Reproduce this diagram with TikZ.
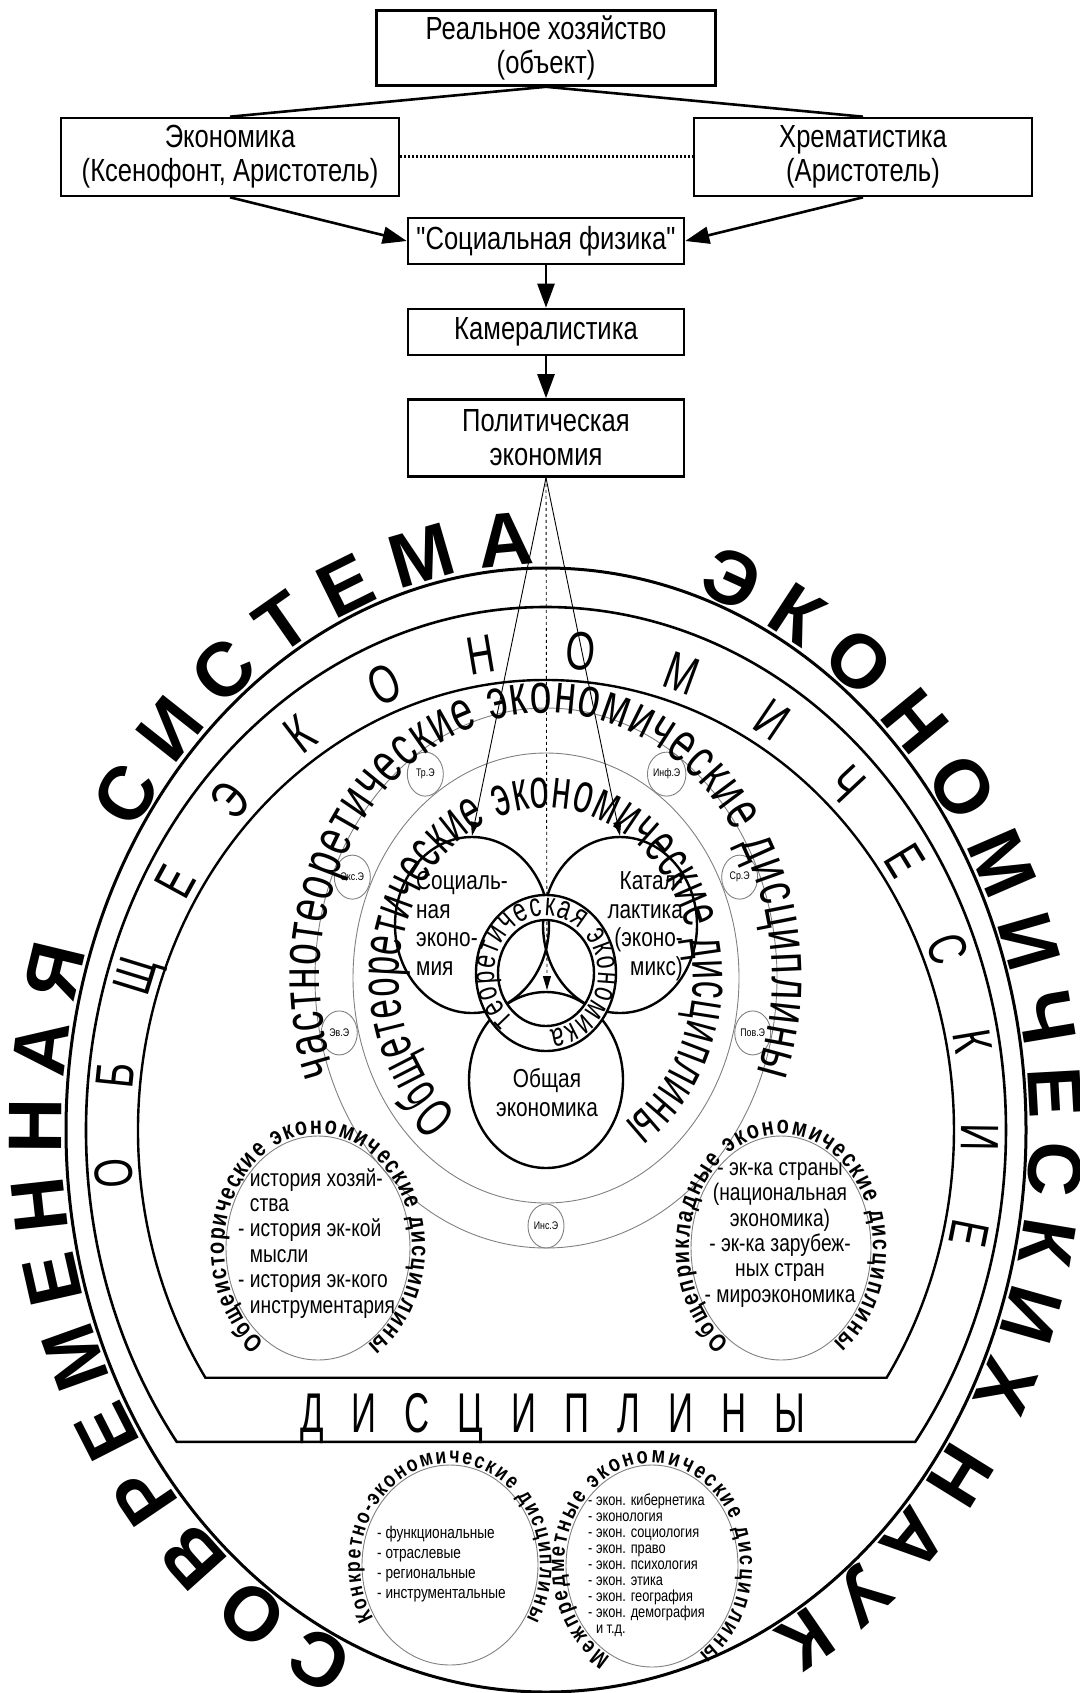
\documentclass[tikz,border=0pt]{standalone}
\usepackage{fontspec}
\setmainfont{Liberation Sans}
\newfontfamily\narrowfont[FakeStretch=0.8]{Liberation Sans}
\newfontfamily\ringfont[FakeStretch=0.7]{Liberation Sans}
\newfontfamily\tallfont[FakeStretch=0.62]{Liberation Sans}
\usetikzlibrary{arrows.meta,decorations.text,shapes.geometric}

\newcommand{\fsz}[1]{\fontsize{#1}{#1}\selectfont}

\begin{document}
\begin{tikzpicture}[x=1pt,y=1pt,
  chainbox/.style={draw, line width=2.6pt, inner sep=0pt, align=center,
    font=\narrowfont\fontsize{32}{34}\selectfont},
  flow/.style={line width=2.6pt, -{Triangle[length=24pt,width=17pt]}},
  feed/.style={line width=0.9pt, -{Triangle[length=14pt,width=8pt]}},
  venn/.style={draw, ellipse, line width=2.4pt, inner sep=0pt,
    minimum width=154pt, minimum height=176pt},
  field/.style={draw=gray, line width=0.9pt},
  sat/.style={field, ellipse, inner sep=0pt, minimum width=36pt, minimum height=44pt,
    font=\narrowfont\fsz{11}},
  venntext/.style={inner sep=0pt, font=\narrowfont\fontsize{26}{28.5}\selectfont},
  listtext/.style={align=left, inner sep=0pt}
]
\useasboundingbox (0,0) rectangle (1079,-1693);

\node[chainbox, minimum width=339pt, minimum height=75pt] (real) at (546,-48) {Реальное хозяйство\\(объект)};
\node[chainbox, minimum width=338pt, minimum height=78pt] (econ) at (230,-157) {Экономика\\(Ксенофонт, Аристотель)};
\node[chainbox, minimum width=338pt, minimum height=78pt] (chrem) at (863,-157) {Хрематистика\\(Аристотель)};
\node[chainbox, minimum width=276pt, minimum height=46pt] (socphys) at (546,-241) {"Социальная физика"};
\node[chainbox, minimum width=276pt, minimum height=46pt] (cameral) at (546,-332) {Камералистика};
\node[chainbox, minimum width=276pt, minimum height=77pt] (polit) at (546,-438) {Политическая\\экономия};

\draw[line width=2.6pt] (real.south) -- (econ.north);
\draw[line width=2.6pt] (real.south) -- (chrem.north);
\draw[line width=3pt, dash pattern=on 2pt off 2pt] (econ.east) -- (chrem.west);
\draw[flow] (econ.south) -- (socphys.west);
\draw[flow] (chrem.south) -- (socphys.east);
\draw[flow] (socphys) -- (cameral);
\draw[flow] (cameral) -- (polit);

\draw[line width=3pt] (546,-1130) ellipse [x radius=480, y radius=562];
\draw[line width=2.6pt] ([shift={(546,-1130)}]216.6:460 and 523)
  arc[start angle=216.6, end angle=-36.6, x radius=460, y radius=523] -- cycle;
\draw[line width=2.4pt] ([shift={(546,-1130)}]213.4:408 and 450)
  arc[start angle=213.4, end angle=-33.4, x radius=408, y radius=450] -- cycle;

\draw[field] (546,-978) ellipse [x radius=231, y radius=270];
\draw[field] (546,-978) ellipse [x radius=193, y radius=225];
\foreach \a/\n/\t in {124.7/tr/Тр.Э, 55.3/inf/Инф.Э, 156/eks/Экс.Э, 24/sr/Ср.Э,
    192.8/ev/Эв.Э, -12.8/pov/Пов.Э, -90/ins/Инс.Э}
  \node[sat] (\n) at ([shift={(546,-978)}]\a:212 and 248) {\t};

\path[decorate, decoration={text along path, text align={fit to path}, raise=4pt,
  text={|\bfseries\fsz{76}|СОВРЕМЕННАЯ{\kern45pt} СИСТЕМА{\kern80pt} ЭКОНОМИЧЕСКИХ{\kern2pt}НАУК{\ }}}]
  ([shift={(546,-1130)}]247:480 and 562) arc[start angle=247, end angle=-67, x radius=480, y radius=562];
\path[decorate, decoration={text along path, text align={fit to path},
  text={|\ringfont\fsz{54}|О Б Щ Е Э К О Н О М И Ч Е С К И Е{\ }}}]
  ([shift={(546,-1130)}]187:415 and 462) arc[start angle=187, end angle=-19, x radius=415, y radius=462];
\coordinate (dl) at (300,-1432);
\coordinate (dr) at (805,-1432);
\path[decorate, decoration={text along path, text align={fit to path},
  text={|\tallfont\fsz{56}|Д И С Ц И П Л И Н Ы}}] (dl) -- (dr);

\path[decorate, decoration={text along path, text align={fit to path},
  text={|\ringfont\fsz{56}|частнотеоретические экономические дисциплины}}]
  ([shift={(546,-978)}]201:226 and 265) arc[start angle=201, end angle=-21, x radius=226, y radius=265];
\path[decorate, decoration={text along path, text align={fit to path},
  text={|\tallfont\fsz{56}|Общетеоретические экономические дисциплины}}]
  ([shift={(546,-978)}]233:147 and 170) arc[start angle=233, end angle=-58, x radius=147, y radius=170];

\node[field, ellipse, inner sep=0pt, minimum width=184pt, minimum height=224pt] (hist) at (318,-1248) {};
\node[field, ellipse, inner sep=0pt, minimum width=180pt, minimum height=224pt] (appl) at (781,-1248) {};
\node[field, ellipse, inner sep=0pt, minimum width=176pt, minimum height=200pt] (conc) at (450,-1565) {};
\node[field, ellipse, inner sep=0pt, minimum width=172pt, minimum height=202pt] (inter) at (652,-1566) {};

\path[decorate, decoration={text along path, text align={fit to path}, raise=2pt,
  text={|\narrowfont\bfseries\fsz{25}|Общеисторические экономические дисциплины}}]
  ([shift={(318,-1248)}]236:92 and 112) arc[start angle=236, end angle=-58, x radius=92, y radius=112];
\path[decorate, decoration={text along path, text align={fit to path}, raise=2pt,
  text={|\narrowfont\bfseries\fsz{25}|Общеприкладные экономические дисциплины}}]
  ([shift={(781,-1248)}]236:90 and 112) arc[start angle=236, end angle=-56, x radius=90, y radius=112];
\path[decorate, decoration={text along path, text align={fit to path}, raise=2pt,
  text={|\narrowfont\bfseries\fsz{22}|Конкретно-экономические дисциплины}}]
  ([shift={(450,-1565)}]212:88 and 100) arc[start angle=212, end angle=-32, x radius=88, y radius=100];
\path[decorate, decoration={text along path, text align={fit to path}, raise=2pt,
  text={|\narrowfont\bfseries\fsz{23}|Межпредметные экономические дисциплины}}]
  ([shift={(652,-1566)}]242:86 and 101) arc[start angle=242, end angle=-58, x radius=86, y radius=101];

\node[listtext, anchor=base west, font=\narrowfont\fontsize{24}{25.4}\selectfont] (histlist) at (238,-1313)
  {- история хозяй-\\\phantom{- }ства\\- история эк-кой\\\phantom{- }мысли\\- история эк-кого\\\phantom{- }инструментария};
\node[listtext, align=center, anchor=base, font=\narrowfont\fontsize{24}{25.3}\selectfont] (appllist) at (780,-1302)
  {- эк-ка страны\\(национальная\\экономика)\\- эк-ка зарубеж-\\ных стран\\- мироэкономика};
\node[listtext, anchor=base west, font=\narrowfont\fontsize{17}{20}\selectfont] (conclist) at (377,-1598)
  {- функциональные\\- отраслевые\\- региональные\\- инструментальные};
\node[listtext, anchor=base west, font=\narrowfont\fontsize{16}{16}\selectfont] (interlist) at (588,-1633)
  {- экон. кибернетика\\- эконология\\- экон. социология\\- экон. право\\- экон. психология\\- экон. этика\\- экон. география\\- экон. демография\\\phantom{- }и т.д.};

\node[venn] (soc) at (472,-925) {};
\node[venn] (cat) at (620,-925) {};
\node[venn] (gen) at (546,-1080) {};
\node[venntext, anchor=base west, align=left] (soctext) at (416,-975) {Социаль-\\ная\\эконо-\\мия};
\node[venntext, anchor=base east, align=right] (cattext) at (683,-975) {Катал-\\лактика\\(эконо-\\микс)};
\node[venntext, anchor=base, align=center] (gentext) at (547,-1116) {Общая\\экономика};

\coordinate (core) at (547,-990);
\draw[feed] (polit.south) -- (soc.north);
\draw[feed] (polit.south) -- (cat.north);
\draw[feed, dashed] (polit.south) -- (core);

\fill[white, even odd rule] (546,-973) ellipse [x radius=70, y radius=78]
  (546,-973) ellipse [x radius=48, y radius=53];
\draw[line width=2.4pt] (546,-973) ellipse [x radius=70, y radius=78];
\draw[line width=2.4pt] (546,-973) ellipse [x radius=48, y radius=53];
\path[decorate, decoration={text along path, text align={fit to path},
  text={|\ringfont\fsz{33}|теоретическая экономика}}]
  ([shift={(546,-973)}]232:52 and 57) arc[start angle=232, end angle=-86, x radius=52, y radius=57];
\end{tikzpicture}
\end{document}
